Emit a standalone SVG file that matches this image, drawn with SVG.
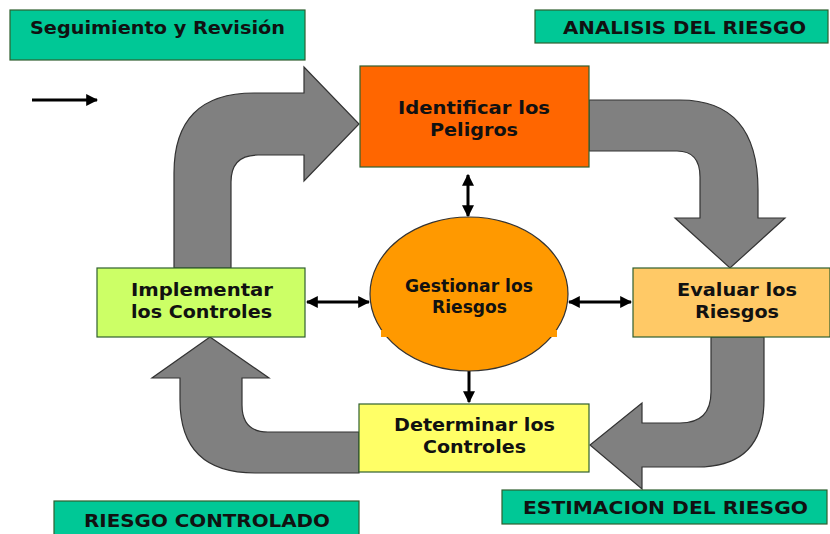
<svg xmlns="http://www.w3.org/2000/svg" width="830" height="534" viewBox="0 0 830 534">
<defs>
<style>
.lbl{fill:#00C896;stroke:#2F5F2F;stroke-width:1.2}
.t{font-family:"DejaVu Sans",Verdana,sans-serif;font-weight:bold;font-size:17px;fill:#111;text-anchor:middle}
.big{fill:#808080;stroke:#333;stroke-width:1.2}
.box{stroke:#2F5F2F;stroke-width:1.2}
.con{stroke:#000;stroke-width:3;fill:none}
</style>
<marker id="ah" viewBox="0 0 10 10" refX="9" refY="5" markerWidth="4" markerHeight="4" orient="auto-start-reverse" markerUnits="strokeWidth">
<path d="M0,0 L10,5 L0,10 Z" fill="#000"/>
</marker>
</defs>
<rect width="830" height="534" fill="#fff"/>

<g id="big-arrows">
<path class="big" d="M174 268 L174 173 Q174 93 254 93 L304 93 L304 67 L359 124 L304 181 L304 155 L258 155 Q231 155 231 182 L231 268 Z"/>
<path class="big" d="M589 100 L680 100 Q758 100 758 190 L758 218 L785 218 L730 268 L675 218 L700 218 L700 177 Q700 151 677 151 L589 151 Z"/>
<path class="big" d="M711 337 L764 337 L764 400 Q764 467 697 467 L642 467 L642 489 L590 445 L642 403 L642 423 L680 423 Q711 423 711 392 Z"/>
<path class="big" d="M359 432 L268 432 Q242 432 242 405 L242 378 L269 378 L210 337 L152 378 L180 378 L180 400 Q180 473 255 473 L359 473 Z"/>
</g>

<g id="connectors">
<line class="con" x1="468" y1="175" x2="468" y2="216" marker-start="url(#ah)" marker-end="url(#ah)"/>
<line class="con" x1="307" y1="302" x2="369" y2="302" marker-start="url(#ah)" marker-end="url(#ah)"/>
<line class="con" x1="569" y1="302" x2="631" y2="302" marker-start="url(#ah)" marker-end="url(#ah)"/>
<line class="con" x1="469" y1="371" x2="469" y2="402" marker-end="url(#ah)"/>
<line class="con" x1="32" y1="100" x2="97" y2="100" marker-end="url(#ah)"/>
</g>

<g id="seguimiento">
<rect class="lbl" x="10" y="10" width="295" height="50"/>
<text class="t" x="157.5" y="34" font-size="18" textLength="255" lengthAdjust="spacingAndGlyphs">Seguimiento y Revisión</text>
</g>
<g id="analisis">
<rect class="lbl" x="535" y="10" width="293" height="33"/>
<text class="t" x="684.5" y="34" textLength="243" lengthAdjust="spacingAndGlyphs">ANALISIS DEL RIESGO</text>
</g>
<g id="estimacion">
<rect class="lbl" x="502" y="490" width="325" height="34"/>
<text class="t" x="665.5" y="514" textLength="285" lengthAdjust="spacingAndGlyphs">ESTIMACION DEL RIESGO</text>
</g>
<g id="controlado">
<rect class="lbl" x="54" y="501" width="305" height="40"/>
<text class="t" x="207" y="527" textLength="246" lengthAdjust="spacingAndGlyphs">RIESGO CONTROLADO</text>
</g>

<g id="identificar">
<rect class="box" x="360" y="66" width="229" height="101" fill="#FF6600"/>
<text class="t" x="474" y="114" textLength="152" lengthAdjust="spacingAndGlyphs">Identificar los</text>
<text class="t" x="474" y="136" textLength="88" lengthAdjust="spacingAndGlyphs">Peligros</text>
</g>
<g id="evaluar">
<rect class="box" x="633" y="268" width="197" height="69" fill="#FFC966"/>
<text class="t" x="737" y="296" textLength="120" lengthAdjust="spacingAndGlyphs">Evaluar los</text>
<text class="t" x="737" y="318" textLength="84" lengthAdjust="spacingAndGlyphs">Riesgos</text>
</g>
<g id="implementar">
<rect class="box" x="97" y="268" width="208" height="69" fill="#CCFF66"/>
<text class="t" x="202" y="296" textLength="142" lengthAdjust="spacingAndGlyphs">Implementar</text>
<text class="t" x="201.5" y="318" textLength="141" lengthAdjust="spacingAndGlyphs">los Controles</text>
</g>
<g id="determinar">
<rect class="box" x="359" y="404" width="230" height="68" fill="#FFFF66"/>
<text class="t" x="474.5" y="431" textLength="161" lengthAdjust="spacingAndGlyphs">Determinar los</text>
<text class="t" x="474.5" y="453" textLength="103" lengthAdjust="spacingAndGlyphs">Controles</text>
</g>
<g id="gestionar">
<ellipse cx="469" cy="294" rx="99" ry="77" fill="#FF9900" stroke="#333" stroke-width="1.2"/>
<rect x="381" y="330" width="176" height="7" fill="#FF9900"/>
<text class="t" x="469" y="292" font-size="16" textLength="128" lengthAdjust="spacingAndGlyphs">Gestionar los</text>
<text class="t" x="469.5" y="313" font-size="16" textLength="75" lengthAdjust="spacingAndGlyphs">Riesgos</text>
</g>
</svg>
